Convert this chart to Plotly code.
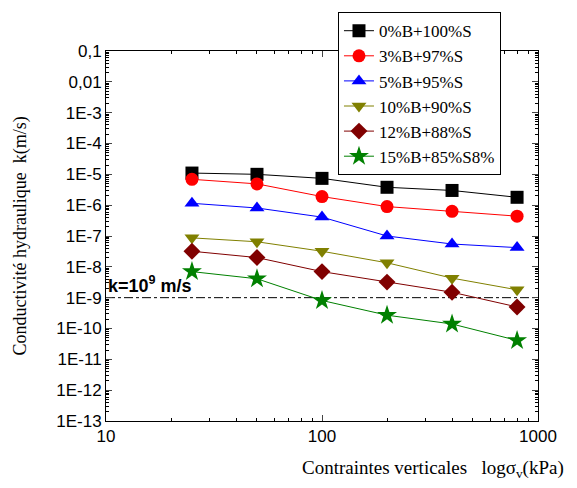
import plotly.graph_objects as go

stress = [25, 50, 100, 200, 400, 800]
series_names = ["0%B+100%S", "3%B+97%S", "5%B+95%S", "10%B+90%S", "12%B+88%S", "15%B+85%S8%"]
k_0 = [1.1e-5, 1.0e-5, 7.4e-6, 3.8e-6, 3.0e-6, 1.8e-6]
k_3 = [6.9e-6, 4.9e-6, 1.9e-6, 9.0e-7, 6.3e-7, 4.4e-7]
k_5 = [1.15e-6, 8.1e-7, 4.1e-7, 1.0e-7, 5.5e-8, 4.2e-8]
k_10 = [8.7e-8, 6.5e-8, 3.2e-8, 1.35e-8, 4.3e-9, 1.8e-9]
k_12 = [3.2e-8, 2.0e-8, 7.0e-9, 3.2e-9, 1.5e-9, 5.0e-10]
k_15 = [7.0e-9, 4.1e-9, 8.1e-10, 2.7e-10, 1.4e-10, 4.1e-11]
k_limit = 1e-9
x_limits = [10, 1000]
y_tick_vals = [1e-1, 1e-2, 1e-3, 1e-4, 1e-5, 1e-6, 1e-7, 1e-8, 1e-9, 1e-10, 1e-11, 1e-12, 1e-13]
y_tick_text = ["0,1", "0,01", "1E-3", "1E-4", "1E-5", "1E-6", "1E-7", "1E-8", "1E-9",
               "1E-10", "1E-11", "1E-12", "1E-13"]
x_tick_vals = [10, 100, 1000]
x_tick_text = ["10", "100", "1000"]

all_k = [k_0, k_3, k_5, k_10, k_12, k_15]
colors = ["#000000", "#ff0000", "#0000ff", "#808000", "#800000", "#008000"]
symbols = ["square", "circle", "triangle-up", "triangle-down", "diamond", "star"]

# minor tick positions (2..9 within each decade)
x_minor = [m * 10 ** e for e in range(1, 3) for m in range(2, 10)]
y_minor = [m * 10.0 ** e for e in range(-13, -1) for m in range(2, 10)]

fig = go.Figure()
fig.add_trace(go.Scatter(x=x_limits, y=[k_limit, k_limit], mode="lines",
                         line=dict(color="black", width=1, dash="dashdot"),
                         showlegend=False, hoverinfo="skip"))
for name, ks, c, s in zip(series_names, all_k, colors, symbols):
    fig.add_trace(go.Scatter(x=stress, y=ks, mode="lines+markers", name=name,
                             line=dict(color=c, width=1),
                             marker=dict(symbol=s, size=13 if s != "star" else 15, color=c)))

tickfont = dict(family="Liberation Sans", size=17, color="black")
fig.update_xaxes(type="log", range=[1, 3], tickvals=x_tick_vals, ticktext=x_tick_text,
                 tickfont=tickfont, ticks="inside", ticklen=6, showgrid=False,
                 showline=True, linecolor="black", linewidth=1, mirror="allticks",
                 zeroline=False,
                 minor=dict(tickmode="array", tickvals=x_minor, ticks="inside",
                            ticklen=3, tickcolor="black", showgrid=False))
fig.update_yaxes(type="log", range=[-13, -1], tickvals=y_tick_vals, ticktext=y_tick_text,
                 tickfont=tickfont, ticks="inside", ticklen=6, showgrid=False,
                 showline=True, linecolor="black", linewidth=1, mirror="allticks",
                 zeroline=False,
                 minor=dict(tickmode="array", tickvals=y_minor, ticks="inside",
                            ticklen=3, tickcolor="black", showgrid=False))

fig.add_annotation(text="<b>k=10<sup>9</sup> m/s</b>", xref="x", yref="y", x=1, y=-9,
                   xanchor="left", yanchor="bottom", showarrow=False,
                   font=dict(family="Liberation Sans", size=18, color="black"))
fig.add_annotation(text="Conductivité hydraulique  k(m/s)", xref="paper", yref="paper",
                   x=-0.2, y=0.5, textangle=-90, showarrow=False,
                   xanchor="center", yanchor="middle",
                   font=dict(family="Liberation Serif", size=18, color="black"))
fig.add_annotation(text="Contraintes verticales   logσ<sub>v</sub>(kPa)", xref="paper", yref="paper",
                   x=1.065, y=-0.13, showarrow=False, xanchor="right", yanchor="middle",
                   font=dict(family="Liberation Serif", size=19, color="black"))

fig.update_layout(
    width=577, height=488,
    margin=dict(l=106, r=39, t=37, b=67),
    paper_bgcolor="white", plot_bgcolor="white",
    legend=dict(x=0.537, y=1.105, xanchor="left", yanchor="top",
                bgcolor="white", bordercolor="black", borderwidth=1,
                font=dict(family="Liberation Serif, serif", size=17, color="black"),
                itemwidth=30, tracegroupgap=0),
)
fig.write_html("out.html", config={"displayModeBar": False},
               post_script="document.body.style.margin='0';")
